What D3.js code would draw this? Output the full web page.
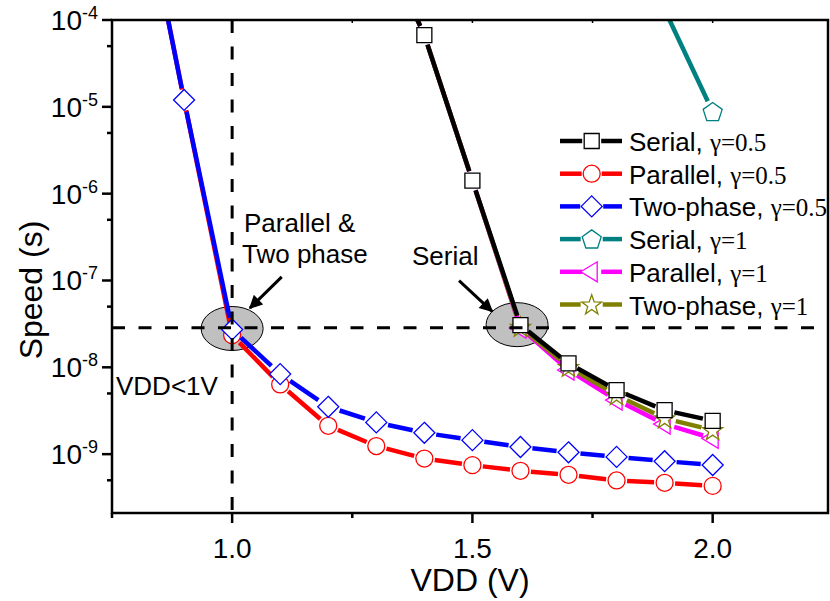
<!DOCTYPE html>
<html><head><meta charset="utf-8">
<script src="https://cdn.jsdelivr.net/npm/d3@7/dist/d3.min.js"></script>
<style>body{margin:0;background:#fff} svg{display:block}</style>
</head><body><svg id="c" width="830" height="601"></svg>
<script>
// ---- data ----
const vdd = [0.8, 0.9, 1.0, 1.1, 1.2, 1.3, 1.4, 1.5, 1.6, 1.7, 1.8, 1.9, 2.0];
const serial05   = [null, null, null, null, null, 1.1e-3, 6.7e-5, 1.41e-6, 3.06e-8, 1.11e-8, 5.46e-9, 3.21e-9, 2.42e-9];
const parallel05 = [7e-3, 1.2e-5, 2.35e-8, 6.35e-9, 2.12e-9, 1.24e-9, 8.9e-10, 7.47e-10, 6.43e-10, 5.78e-10, 4.98e-10, 4.68e-10, 4.31e-10];
const twophase05 = [7e-3, 1.2e-5, 2.73e-8, 8.35e-9, 3.51e-9, 2.32e-9, 1.76e-9, 1.45e-9, 1.21e-9, 1.05e-9, 9.3e-10, 8.3e-10, 7.5e-10];
const serial1    = [null, null, null, null, null, null, null, null, null, null, null, 1.32e-4, 8.8e-6];
const parallel1  = [null, null, null, null, null, 1.1e-3, 6.7e-5, 1.41e-6, 2.83e-8, 9.3e-9, 4.19e-9, 2.22e-9, 1.52e-9];
const twophase1  = [null, null, null, null, null, 1.1e-3, 6.7e-5, 1.41e-6, 2.93e-8, 1.01e-8, 4.78e-9, 2.58e-9, 1.89e-9];

const seriesNames  = ["Serial", "Parallel", "Two-phase", "Serial", "Parallel", "Two-phase"];
const gammaLabels  = ["\u03b3=0.5", "\u03b3=0.5", "\u03b3=0.5", "\u03b3=1", "\u03b3=1", "\u03b3=1"];
const seriesValues = [serial05, parallel05, twophase05, serial1, parallel1, twophase1];
const seriesColors = ["#000000", "#ff0000", "#0000ff", "#008080", "#ff00ff", "#808000"];
const seriesSymbols = ["square", "circle", "diamond", "pentagon", "triangle", "star"];
const drawOrder = [3, 4, 5, 0, 1, 2];

const yMajorExps = [-4, -5, -6, -7, -8, -9];
const yMinorTicks = [5e-5, 5e-6, 5e-7, 5e-8, 5e-9, 5e-10];
const xMajorTicks = [1.0, 1.5, 2.0];
const xMinorTicks = [0.75, 1.25, 1.75];
const xTickLabels = ["1.0", "1.5", "2.0"];

const guideVdd = 1.0, guideSpeed = 2.85e-8;
const xTitle = "VDD (V)", yTitle = "Speed (s)";

// ---- layout ----
const svg = d3.select("#c");
const L = 112, R = 828, T = 20, B = 513;
const x = d3.scaleLinear().domain([0.75, 2.24]).range([L, R]);
const y = d3.scaleLog().domain([2.1e-10, 1e-4]).range([B, T]);
const SANS = "'Liberation Sans', Arial, Helvetica, sans-serif";
const SERIF = "'Liberation Serif', 'Times New Roman', serif";

function symPath(t) {
  if (t === "square") return "M-7.5,-7.5h15v15h-15Z";
  if (t === "circle") return "M8.5,0A8.5,8.5 0 1,1 -8.5,0A8.5,8.5 0 1,1 8.5,0Z";
  if (t === "diamond") return "M0,-10.5L10.5,0L0,10.5L-10.5,0Z";
  if (t === "triangle") return "M-11,0L5.5,-10L5.5,10Z";
  if (t === "pentagon") {
    const p = d3.range(5).map(k => { const a = -Math.PI / 2 + k * 2 * Math.PI / 5; return [10 * Math.cos(a), 10 * Math.sin(a) + 0.8]; });
    return "M" + p.map(d => d.join(",")).join("L") + "Z";
  }
  if (t === "star") {
    const p = d3.range(10).map(k => { const r = k % 2 ? 4.2 : 10.5; const a = -Math.PI / 2 + k * Math.PI / 5; return [r * Math.cos(a), r * Math.sin(a) + 0.8]; });
    return "M" + p.map(d => d.join(",")).join("L") + "Z";
  }
}
const symGap = { square: 10, circle: 10.5, diamond: 12, triangle: 10, pentagon: 11.5, star: 11.5 };

// clip
svg.append("defs").append("clipPath").attr("id", "plot")
  .append("rect").attr("x", L).attr("y", T).attr("width", R - L).attr("height", B - T);

// ellipses (highlight)
const highlights = [{ v: 1.0, s: 2.8e-8 }, { v: 1.593, s: 3.1e-8 }];
svg.append("g").selectAll("ellipse").data(highlights).join("ellipse")
  .attr("cx", d => x(d.v)).attr("cy", d => y(d.s)).attr("rx", 31).attr("ry", 22)
  .attr("fill", "#c0c0c0").attr("stroke", "#000").attr("stroke-width", 1);

// data
const gData = svg.append("g").attr("clip-path", "url(#plot)");
drawOrder.forEach((i, oi) => {
  const vals = seriesValues[i];
  const later = drawOrder.slice(oi + 1).map(j => seriesValues[j]);
  const pts = vdd.map((v, k) => vals[k] == null ? null :
      { p: [x(v), y(vals[k])], hidden: later.some(o => o[k] === vals[k]) }).filter(p => p);
  const g = symGap[seriesSymbols[i]];
  const segs = [];
  for (let k = 0; k < pts.length - 1; k++) {
    const a = pts[k].p, b = pts[k + 1].p;
    const dx = b[0] - a[0], dy = b[1] - a[1], d = Math.hypot(dx, dy);
    if (d <= 2 * g) continue;
    const ux = dx / d, uy = dy / d;
    segs.push([[a[0] + ux * g, a[1] + uy * g], [b[0] - ux * g, b[1] - uy * g]]);
  }
  const grp = gData.append("g");
  grp.selectAll("line").data(segs).join("line")
    .attr("x1", s => s[0][0]).attr("y1", s => s[0][1]).attr("x2", s => s[1][0]).attr("y2", s => s[1][1])
    .attr("stroke", seriesColors[i]).attr("stroke-width", 4.5);
  grp.selectAll("path").data(pts.filter(d => !d.hidden)).join("path")
    .attr("d", symPath(seriesSymbols[i]))
    .attr("transform", d => `translate(${d.p[0]},${d.p[1]})`)
    .attr("fill", "#fff").attr("stroke", seriesColors[i]).attr("stroke-width", 1.3);
});

// guide dashed lines
const gGuide = svg.append("g").attr("stroke", "#000").attr("stroke-width", 3).attr("stroke-dasharray", "13,13.5");
gGuide.append("line").attr("x1", x(guideVdd)).attr("x2", x(guideVdd)).attr("y1", T).attr("y2", B);
gGuide.append("line").attr("x1", L).attr("x2", R).attr("y1", y(guideSpeed)).attr("y2", y(guideSpeed));

// axes frame
const gAx = svg.append("g").attr("stroke", "#000");
gAx.append("rect").attr("x", L).attr("y", T).attr("width", R - L).attr("height", B - T)
  .attr("fill", "none").attr("stroke-width", 2.5);
gAx.selectAll(".ymaj").data(yMajorExps).join("line")
  .attr("x1", L - 10).attr("x2", L).attr("y1", e => y(Math.pow(10, e))).attr("y2", e => y(Math.pow(10, e))).attr("stroke-width", 2.5);
gAx.selectAll(".ymin").data(yMinorTicks).join("line").attr("class", "ymin")
  .attr("x1", L - 5).attr("x2", L).attr("y1", v => y(v)).attr("y2", v => y(v)).attr("stroke-width", 2.5);
gAx.selectAll(".xmaj").data(xMajorTicks).join("line").attr("class", "xmaj")
  .attr("x1", v => x(v)).attr("x2", v => x(v)).attr("y1", B).attr("y2", B + 10).attr("stroke-width", 2.5);
gAx.selectAll(".xmin").data(xMinorTicks).join("line").attr("class", "xmin")
  .attr("x1", v => x(v)).attr("x2", v => x(v)).attr("y1", B).attr("y2", B + 5).attr("stroke-width", 2.5);
gAx.selectAll(".xtop").data(xMajorTicks.concat(xMinorTicks)).join("line").attr("class", "xtop")
  .attr("x1", v => x(v)).attr("x2", v => x(v)).attr("y1", T).attr("y2", T + 3).attr("stroke-width", 1.5);

// tick labels
const yl = svg.append("g").attr("font-family", SANS).attr("fill", "#000");
yMajorExps.forEach(e => {
  const t = yl.append("text").attr("x", L - 14).attr("y", y(Math.pow(10, e)) + 10).attr("text-anchor", "end").attr("font-size", 28);
  t.append("tspan").text("10");
  t.append("tspan").attr("dy", -11).attr("font-size", 18).text(String(e));
});
svg.append("g").selectAll("text").data(xMajorTicks).join("text")
  .attr("x", v => x(v)).attr("y", B + 45).attr("text-anchor", "middle")
  .attr("font-family", SANS).attr("font-size", 28).text((v, k) => xTickLabels[k]);

// axis titles
svg.append("text").attr("x", (L + R) / 2).attr("y", 591).attr("text-anchor", "middle")
  .attr("font-family", SANS).attr("font-size", 32).text(xTitle);
svg.append("text").attr("transform", `translate(42,290) rotate(-90)`).attr("text-anchor", "middle")
  .attr("font-family", SANS).attr("font-size", 32).text(yTitle);

// annotations
const ann = svg.append("g").attr("font-family", SANS).attr("font-size", 26).attr("fill", "#000");
ann.append("text").attr("x", 244).attr("y", 232).text("Parallel &");
ann.append("text").attr("x", 242).attr("y", 263).text("Two phase");
ann.append("text").attr("x", 412).attr("y", 265).text("Serial");
ann.append("text").attr("x", 116).attr("y", 395).text("VDD<1V");

svg.append("defs").append("marker").attr("id", "ah").attr("viewBox", "0 0 10 10").attr("refX", 9).attr("refY", 5)
  .attr("markerWidth", 5).attr("markerHeight", 4.5).attr("markerUnits", "strokeWidth").attr("orient", "auto")
  .append("path").attr("d", "M0,0L10,5L0,10Z").attr("fill", "#000");
const arrows = [
  { v0: 1.1032, s0: 1.10e-7, v1: 1.037, s1: 4.8e-8 },
  { v0: 1.4722, s0: 9.95e-8, v1: 1.541, s1: 4.4e-8 }
];
svg.append("g").selectAll("line").data(arrows).join("line")
  .attr("x1", d => x(d.v0)).attr("y1", d => y(d.s0)).attr("x2", d => x(d.v1)).attr("y2", d => y(d.s1))
  .attr("stroke", "#000").attr("stroke-width", 3).attr("marker-end", "url(#ah)");

// legend
const lg = svg.append("g");
seriesNames.forEach((n, i) => {
  const cy = 141 + i * 32.7, cx = 591.7, g = symGap[seriesSymbols[i]] - 0.5;
  lg.append("line").attr("x1", 560).attr("x2", cx - g).attr("y1", cy).attr("y2", cy).attr("stroke", seriesColors[i]).attr("stroke-width", 4.5);
  lg.append("line").attr("x1", cx + g).attr("x2", 622).attr("y1", cy).attr("y2", cy).attr("stroke", seriesColors[i]).attr("stroke-width", 4.5);
  lg.append("path").attr("d", symPath(seriesSymbols[i])).attr("transform", `translate(${cx},${cy})`)
    .attr("fill", "#fff").attr("stroke", seriesColors[i]).attr("stroke-width", 1.3);
  const t = lg.append("text").attr("x", 629).attr("y", cy + 10).attr("font-family", SANS).attr("font-size", 26);
  t.append("tspan").text(n + ", ");
  t.append("tspan").attr("font-family", SERIF).attr("font-size", 25).text(gammaLabels[i]);
});
</script></body></html>
